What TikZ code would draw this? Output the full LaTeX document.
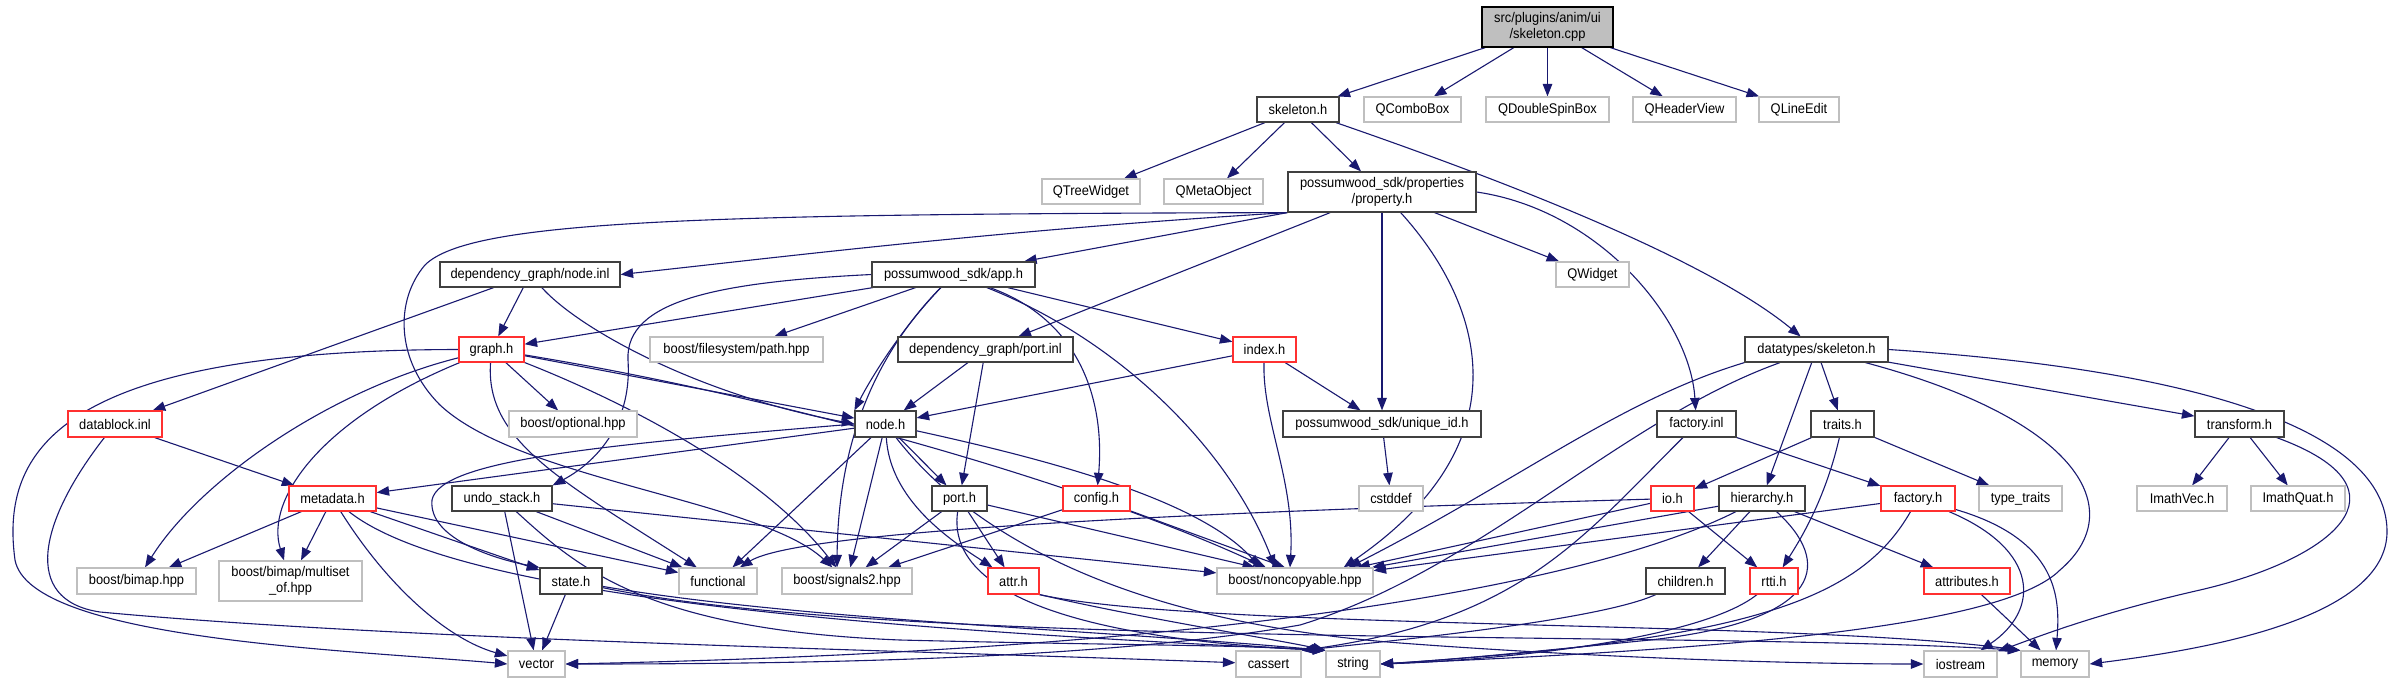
\documentclass[tikz,border=0pt]{standalone}
\usepackage{fontspec}
\setmainfont[FakeStretch=0.92]{Liberation Sans}
\usetikzlibrary{arrows.meta,backgrounds}
\definecolor{edgeblue}{HTML}{191970}
\definecolor{dkgray}{HTML}{404040}
\definecolor{nodered}{HTML}{FF3030}
\definecolor{ltgray}{HTML}{BFBFBF}
\tikzset{
 base/.style={rectangle, inner sep=0pt, fill=white, font=\fontsize{14}{16}\selectfont, align=center, line width=1.2pt},
 blk/.style={base, draw=dkgray},
 rd/.style={base, draw=nodered},
 gr/.style={base, draw=ltgray},
 mainnode/.style={base, draw=black, fill=ltgray},
 e/.style={draw=edgeblue, line width=1.1pt, -{Triangle[length=12.5pt,width=9.5pt]}},
}
\newcommand\mynd[7]{%
 \pgfmathsetmacro\ndw{#3-#2}%
 \pgfmathsetmacro\ndh{#5-#4}%
 \pgfmathsetmacro\ndx{(#2+#3)/2}%
 \pgfmathsetmacro\ndy{(#4+#5)/2}%
 \node[#6,minimum width=\ndw pt,minimum height=\ndh pt] (#1) at (\ndx,\ndy) {#7};}
\begin{document}
\begin{tikzpicture}[x=1pt,y=-1pt]
\useasboundingbox (0,0) rectangle (2391,683);
\mynd{cpp}{1482}{1613}{7}{47}{mainnode}{src/plugins/anim/ui\\/skeleton.cpp}
\mynd{skh}{1257}{1339}{97}{122}{blk}{skeleton.h}
\mynd{qcb}{1364}{1461}{97}{122}{gr}{QComboBox}
\mynd{qdsb}{1486}{1609}{97}{122}{gr}{QDoubleSpinBox}
\mynd{qhv}{1633}{1736}{97}{122}{gr}{QHeaderView}
\mynd{qle}{1759}{1839}{97}{122}{gr}{QLineEdit}
\mynd{qtw}{1042}{1140}{179}{204}{gr}{QTreeWidget}
\mynd{qmo}{1164}{1263}{179}{204}{gr}{QMetaObject}
\mynd{prop}{1288}{1476}{172}{212}{blk}{possumwood\_sdk/properties\\/property.h}
\mynd{nodeinl}{440}{620}{262}{287}{blk}{dependency\_graph/node.inl}
\mynd{apph}{872}{1035}{262}{287}{blk}{possumwood\_sdk/app.h}
\mynd{qwidget}{1556}{1629}{262}{287}{gr}{QWidget}
\mynd{dtsk}{1745}{1888}{337}{362}{blk}{datatypes/skeleton.h}
\mynd{graphh}{459}{524}{337}{362}{rd}{graph.h}
\mynd{pathhpp}{650}{823}{337}{362}{gr}{boost/filesystem/path.hpp}
\mynd{portinl}{898}{1073}{337}{362}{blk}{dependency\_graph/port.inl}
\mynd{indexh}{1233}{1296}{337}{362}{rd}{index.h}
\mynd{datablock}{68}{162}{411}{437}{rd}{datablock.inl}
\mynd{optional}{509}{637}{411}{437}{gr}{boost/optional.hpp}
\mynd{nodeh}{855}{916}{411}{437}{blk}{node.h}
\mynd{uniqueid}{1283}{1481}{411}{437}{blk}{possumwood\_sdk/unique\_id.h}
\mynd{factoryinl}{1657}{1736}{411}{437}{blk}{factory.inl}
\mynd{traits}{1811}{1874}{411}{437}{blk}{traits.h}
\mynd{transform}{2195}{2284}{411}{437}{blk}{transform.h}
\mynd{metadata}{289}{376}{486}{511}{rd}{metadata.h}
\mynd{undo}{452}{552}{486}{511}{blk}{undo\_stack.h}
\mynd{porth}{932}{987}{486}{511}{blk}{port.h}
\mynd{config}{1063}{1130}{486}{511}{rd}{config.h}
\mynd{cstddef}{1359}{1423}{486}{511}{gr}{cstddef}
\mynd{ioh}{1651}{1694}{486}{511}{rd}{io.h}
\mynd{hier}{1719}{1805}{486}{511}{blk}{hierarchy.h}
\mynd{factoryh}{1881}{1955}{486}{511}{rd}{factory.h}
\mynd{typetraits}{1979}{2062}{486}{511}{gr}{type\_traits}
\mynd{imathvec}{2137}{2227}{486}{511}{gr}{ImathVec.h}
\mynd{imathquat}{2251}{2345}{486}{511}{gr}{ImathQuat.h}
\mynd{bimap}{77}{196}{568}{594}{gr}{boost/bimap.hpp}
\mynd{multiset}{219}{362}{561}{601}{gr}{boost/bimap/multiset\\\_of.hpp}
\mynd{state}{540}{602}{568}{594}{blk}{state.h}
\mynd{functional}{679}{757}{568}{594}{gr}{functional}
\mynd{signals2}{782}{912}{568}{594}{gr}{boost/signals2.hpp}
\mynd{attr}{988}{1039}{568}{594}{rd}{attr.h}
\mynd{noncopy}{1217}{1373}{568}{594}{gr}{boost/noncopyable.hpp}
\mynd{children}{1646}{1725}{568}{594}{blk}{children.h}
\mynd{rtti}{1750}{1798}{568}{594}{rd}{rtti.h}
\mynd{attributes}{1924}{2010}{568}{594}{rd}{attributes.h}
\mynd{vector}{508}{565}{651}{677}{gr}{vector}
\mynd{cassert}{1236}{1301}{651}{677}{gr}{cassert}
\mynd{string}{1326}{1380}{651}{677}{gr}{string}
\mynd{iostream}{1924}{1997}{651}{677}{gr}{iostream}
\mynd{memory}{2021}{2089}{651}{677}{gr}{memory}
\begin{pgfonlayer}{background}
\fill[white] (0,0) rectangle (2391,683);
% skeleton.cpp
\draw[e] (cpp) -- (skh);
\draw[e] (cpp) -- (qcb);
\draw[e] (cpp) -- (qdsb);
\draw[e] (cpp) -- (qhv);
\draw[e] (cpp) -- (qle);
% skeleton.h
\draw[e] (skh) -- (qtw);
\draw[e] (skh) -- (qmo);
\draw[e] (skh) -- (prop);
\draw[e] (skh) .. controls (1560,200) and (1720,270) .. (dtsk);
% property.h
\draw[e] (prop.south west) .. controls (1000,230) and (800,255) .. (nodeinl.east);
\draw[e] (prop.south west) -- (apph);
\draw[e] (prop.south west) .. controls (700,214) and (470,220) .. (425,265) .. controls (395,300) and (395,360) .. (440,405) .. controls (520,480) and (760,500) .. (signals2);
\draw[e] (prop) -- (portinl);
\draw[e] (prop) -- (uniqueid);
\draw[e] (prop) .. controls (1480,300) and (1530,440) .. ([xshift=-30pt]noncopy.north east);
\draw[e] (prop) -- (qwidget);
\draw[e] (prop.east) .. controls (1600,210) and (1690,320) .. (factoryinl);
% node.inl
\draw[e] (nodeinl) -- (graphh);
\draw[e] (nodeinl) -- (datablock);
\draw[e] (nodeinl) .. controls (580,330) and (700,395) .. (nodeh.west);
% app.h
\draw[e] (apph) -- (graphh);
\draw[e] (apph) -- (pathhpp);
\draw[e] (apph.west) .. controls (720,282) and (625,300) .. (628,360) .. controls (632,420) and (600,460) .. (undo.north east);
\draw[e] (apph) .. controls (900,330) and (870,380) .. (nodeh.north west);
\draw[e] (apph) .. controls (870,360) and (838,450) .. ([xshift=-10pt]signals2.north);
\draw[e] (apph) -- (indexh);
\draw[e] (apph) .. controls (1080,320) and (1105,400) .. (config);
\draw[e] (apph) .. controls (1120,340) and (1230,450) .. ([xshift=-20pt]noncopy.north);
% port.inl, index.h, unique_id.h
\draw[e] (portinl) -- (nodeh);
\draw[e] (portinl) -- (porth);
\draw[e] (indexh) -- (nodeh);
\draw[e] (indexh) -- (uniqueid);
\draw[e] (indexh) .. controls (1262,420) and (1295,480) .. ([xshift=-5pt]noncopy.north);
\draw[e] (uniqueid) -- (cstddef);
% graph.h
\draw[e] (graphh) -- (optional);
\draw[e] (graphh) -- (nodeh);
\draw[e] (graphh) .. controls (330,390) and (200,480) .. (bimap);
\draw[e] (graphh) .. controls (320,420) and (265,500) .. (multiset);
\draw[e] (graphh.west) .. controls (60,350) and (0,450) .. (15,560) .. controls (30,640) and (350,650) .. (vector.west);
\draw[e] (graphh) .. controls (485,440) and (560,480) .. (functional);
\draw[e] (graphh) .. controls (620,400) and (760,470) .. (signals2);
\draw[e] (graphh) .. controls (800,400) and (1100,490) .. (noncopy);
% datablock.inl
\draw[e] (datablock) -- (metadata);
\draw[e] (datablock) .. controls (40,520) and (20,600) .. (100,612) .. controls (400,640) and (900,650) .. (cassert);
% node.h
\draw[e] (nodeh) -- (metadata);
\draw[e] (nodeh.west) .. controls (600,445) and (440,460) .. (432,500) .. controls (428,540) and (500,560) .. (state.north west);
\draw[e] (nodeh) -- (porth);
\draw[e] (nodeh) .. controls (890,500) and (950,540) .. (attr);
\draw[e] (nodeh) -- (signals2);
\draw[e] (nodeh) -- (functional);
\draw[e] (nodeh) .. controls (1050,460) and (1200,500) .. ([xshift=-35pt]noncopy.north);
\draw[e] (nodeh) .. controls (960,520) and (1100,620) .. (1400,643) .. controls (1600,658) and (1800,664) .. (iostream);
% metadata.h
\draw[e] (metadata) -- (bimap);
\draw[e] (metadata) -- (multiset);
\draw[e] (metadata) .. controls (390,590) and (450,640) .. (vector);
\draw[e] (metadata) -- (state);
\draw[e] (metadata) -- (functional);
\draw[e] (metadata) .. controls (460,600) and (900,630) .. (string.north west);
% undo_stack.h
\draw[e] (undo) -- (vector);
\draw[e] (undo) -- (functional);
\draw[e] (undo) -- (noncopy);
\draw[e] (undo) .. controls (580,570) and (650,630) .. (900,640) .. controls (1100,645) and (1250,645) .. (string.north west);
% state.h
\draw[e] (state) -- (vector);
\draw[e] (state) .. controls (800,620) and (1100,630) .. (string.north west);
\draw[e] (state) .. controls (900,650) and (1700,630) .. (memory.north west);
% port.h
\draw[e] (porth) -- (signals2);
\draw[e] (porth) -- (attr);
\draw[e] (porth) -- ([xshift=-40pt]noncopy.north);
\draw[e] (porth) .. controls (945,600) and (1100,640) .. (string.north west);
% config.h
\draw[e] (config) -- (signals2);
\draw[e] (config) -- ([xshift=-10pt]noncopy.north);
% attr.h
\draw[e] (attr.south east) .. controls (1150,620) and (1280,640) .. (string.north west);
\draw[e] (attr.south east) .. controls (1200,630) and (1800,620) .. (memory.north west);
% datatypes/skeleton.h
\draw[e] (dtsk) -- (traits);
\draw[e] (dtsk) -- (hier);
\draw[e] (dtsk) -- (transform);
\draw[e] (dtsk.east) .. controls (2200,370) and (2385,430) .. (2387,530) .. controls (2389,620) and (2200,650) .. (memory.east);
\draw[e] (dtsk.south west) .. controls (1620,400) and (1520,480) .. ([xshift=-25pt]noncopy.north east);
\draw[e] (dtsk) .. controls (1620,420) and (1480,570) .. (1300,625) .. controls (1100,660) and (800,664) .. (vector.east);
\draw[e] (dtsk) .. controls (2080,420) and (2130,510) .. (2060,570) .. controls (2000,630) and (1700,650) .. (string.east);
% factory.inl
\draw[e] (factoryinl) -- (factoryh);
\draw[e] (factoryinl) .. controls (1580,540) and (1520,620) .. (cassert.north east);
% traits.h
\draw[e] (traits) -- (ioh);
\draw[e] (traits) .. controls (1825,500) and (1800,540) .. (rtti);
\draw[e] (traits) -- (typetraits);
% io.h
\draw[e] (ioh) -- (rtti);
\draw[e] (ioh) -- (noncopy);
\draw[e] (ioh) .. controls (1200,512) and (800,530) .. (functional);
% hierarchy.h
\draw[e] (hier) -- (children);
\draw[e] (hier) -- (attributes);
\draw[e] (hier) -- (noncopy);
\draw[e] (hier) .. controls (1830,560) and (1830,620) .. (1650,640) .. controls (1550,650) and (1450,660) .. (string.east);
\draw[e] (hier) .. controls (1600,580) and (1250,650) .. (vector.east);
% factory.h
\draw[e] (factoryh) -- (noncopy);
\draw[e] (factoryh) .. controls (1860,600) and (1750,640) .. (string.east);
\draw[e] (factoryh) .. controls (2040,550) and (2040,610) .. (iostream);
\draw[e] (factoryh) .. controls (2060,540) and (2060,600) .. (memory);
% children.h, rtti.h, attributes.h
\draw[e] (children) .. controls (1600,620) and (1400,640) .. (cassert.north east);
\draw[e] (rtti) .. controls (1700,640) and (1500,660) .. (string.east);
\draw[e] (attributes) -- (memory);
% transform.h
\draw[e] (transform) -- (imathvec);
\draw[e] (transform) -- (imathquat);
\draw[e] (transform) .. controls (2420,490) and (2330,560) .. (2200,590) .. controls (2090,615) and (2030,640) .. (iostream);
\end{pgfonlayer}
\end{tikzpicture}
\end{document}
